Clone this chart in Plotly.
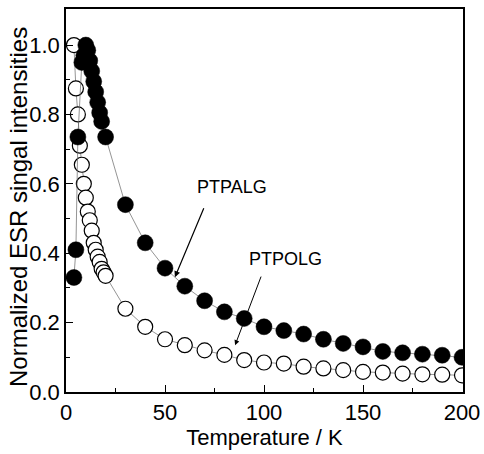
import plotly.graph_objects as go

# PTPALG (filled circles)
t_ptpalg = [4, 5, 6, 8, 9, 10, 11, 12, 13, 14, 15, 16, 17, 18, 20,
            30, 40, 50, 60, 70, 80, 90, 100, 110, 120, 130, 140, 150,
            160, 170, 180, 190, 200]
i_ptpalg = [0.33, 0.41, 0.735, 0.95, 0.97, 1.0, 0.985, 0.955, 0.925, 0.895, 0.865,
            0.835, 0.805, 0.78, 0.735,
            0.54, 0.43, 0.357, 0.305, 0.263, 0.231, 0.212, 0.188, 0.177, 0.167,
            0.152, 0.14, 0.13, 0.117, 0.113, 0.109, 0.106, 0.10]

# PTPOLG (open circles)
t_ptpolg = [4, 5, 6, 7, 8, 9, 10, 11, 12, 13, 14, 15, 16, 17, 18, 19, 20,
            30, 40, 50, 60, 70, 80, 90, 100, 110, 120, 130, 140, 150,
            160, 170, 180, 190, 200]
i_ptpolg = [1.0, 0.875, 0.80, 0.71, 0.655, 0.60, 0.56, 0.52, 0.495, 0.465, 0.43,
            0.41, 0.39, 0.375, 0.355, 0.345, 0.335,
            0.24, 0.188, 0.152, 0.135, 0.12, 0.107, 0.092, 0.085, 0.082, 0.073,
            0.068, 0.063, 0.058, 0.056, 0.053, 0.051, 0.05, 0.048]

x_ticks = [0, 50, 100, 150, 200]
y_ticks = [0.0, 0.2, 0.4, 0.6, 0.8, 1.0]
y_tick_labels = ["0.0", "0.2", "0.4", "0.6", "0.8", "1.0"]

FONT = "Liberation Sans, Arial, sans-serif"

fig = go.Figure()
fig.add_trace(go.Scatter(
    x=t_ptpolg, y=i_ptpolg, mode="lines+markers",
    line=dict(color="#666666", width=0.7),
    marker=dict(size=15, color="white", line=dict(color="black", width=1.2)),
    name="PTPOLG", showlegend=False))
fig.add_trace(go.Scatter(
    x=t_ptpalg, y=i_ptpalg, mode="lines+markers",
    line=dict(color="#666666", width=0.7),
    marker=dict(size=16, color="black", line=dict(color="black", width=0.5)),
    name="PTPALG", showlegend=False))

# annotations
fig.add_annotation(x=55.0, y=0.331, ax=69.9, ay=0.534, xref="x", yref="y",
                   axref="x", ayref="y", showarrow=True, arrowhead=2,
                   arrowsize=1, arrowwidth=1.2, arrowcolor="black", text="")
fig.add_annotation(x=83.8, y=0.591, xref="x", yref="y", text="PTPALG",
                   showarrow=False, font=dict(family=FONT, size=18, color="black"))
fig.add_annotation(x=85.4, y=0.135, ax=98.8, ay=0.337, xref="x", yref="y",
                   axref="x", ayref="y", showarrow=True, arrowhead=2,
                   arrowsize=1, arrowwidth=1.0, arrowcolor="black", text="")
fig.add_annotation(x=111.1, y=0.383, xref="x", yref="y", text="PTPOLG",
                   showarrow=False, font=dict(family=FONT, size=18, color="black"))

# y-axis title (placed precisely)
fig.add_annotation(x=0, y=0.5, xref="paper", yref="paper", xanchor="right",
                   yanchor="middle", xshift=-32, yshift=-7, textangle=-90,
                   text="Normalized ESR singal intensities", showarrow=False,
                   font=dict(family=FONT, size=24, color="black"))

fig.update_layout(
    width=484, height=454,
    margin=dict(l=66, r=21, t=9, b=62),
    paper_bgcolor="white", plot_bgcolor="white",
    font=dict(family=FONT, size=20, color="black"),
    xaxis=dict(range=[0, 200.5], tickmode="array", tickvals=x_ticks,
               ticks="inside", ticklen=7, tickwidth=1.2, tickcolor="black",
               minor=dict(tickmode="array", tickvals=[25, 75, 125, 175],
                          ticks="inside", ticklen=4, tickcolor="black"),
               showline=True, linecolor="black", linewidth=1.5, mirror=True,
               showgrid=False, zeroline=False, automargin=False,
               title=dict(text="Temperature / K", standoff=1,
                          font=dict(family=FONT, size=22)),
               tickfont=dict(family=FONT, size=22)),
    yaxis=dict(range=[0, 1.104], tickmode="array", tickvals=y_ticks,
               ticktext=y_tick_labels,
               ticks="inside", ticklen=7, tickwidth=1.2, tickcolor="black",
               minor=dict(tickmode="array", tickvals=[0.1, 0.3, 0.5, 0.7, 0.9],
                          ticks="inside", ticklen=4, tickcolor="black"),
               showline=True, linecolor="black", linewidth=1.5, mirror=True,
               showgrid=False, zeroline=False, automargin=False,
               tickfont=dict(family=FONT, size=22)),
)

fig.write_html("out.html", config={"displayModeBar": False},
               post_script="document.body.style.margin='0px';")
